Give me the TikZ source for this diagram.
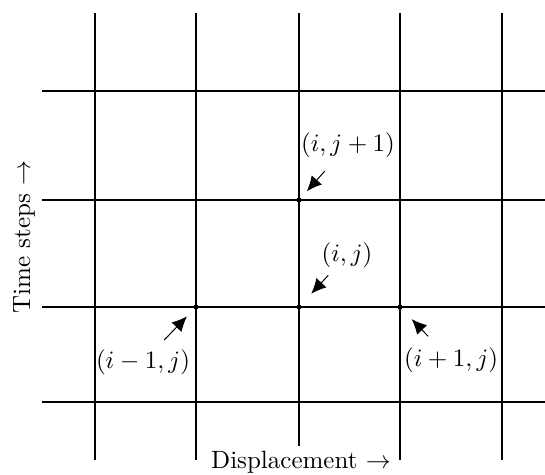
\documentclass[tikz,border=0pt]{standalone}
\usepackage{tikz}
\usetikzlibrary{arrows.meta}

\tikzset{
  gridline/.style={line width=0.5pt},
  gridpt/.style={circle, fill=black, inner sep=0pt, minimum size=2pt},
  ptlabel/.style={inner sep=0pt},
  ptarrow/.style={line width=0.4pt, -{Latex[length=6pt,width=5.5pt]}},
}

\begin{document}
\begin{tikzpicture}[x=0.4pt, y=-0.4pt]
    \useasboundingbox (0,0) rectangle (545,474);
    % mesh lines
    \foreach \x/\e in {95/460, 196/460, 299/446, 400/460, 502/460}
      \draw[gridline] (\x,13) -- (\x,\e);
    \foreach \y in {91, 200, 307, 402}
      \draw[gridline] (42,\y) -- (545,\y);

    % mesh points
    \node[gridpt] (pij)  at (299,307) {};
    \node[gridpt] (pup)  at (299,200) {};
    \node[gridpt] (pleft) at (196,307) {};
    \node[gridpt] (pright) at (400,307) {};

    % point labels
    \node[ptlabel] (lup)    at (348,145) {$(i, j+1)$};
    \node[ptlabel] (lij)    at (347,255) {$(i, j)$};
    \node[ptlabel] (lleft)  at (143,362) {$(i-1, j)$};
    \node[ptlabel] (lright) at (451,360) {$(i+1, j)$};

    \draw[ptarrow, shorten <=7pt, shorten >=3.5pt] (lup) -- (pup);
    \draw[ptarrow, shorten <=4pt, shorten >=6pt] (lij) -- (pij);
    \draw[ptarrow, shorten <=5pt, shorten >=4pt] (lleft) -- (pleft);
    \draw[ptarrow, shorten <=6pt, shorten >=5.5pt] (lright) -- (pright);

    % axis labels
    \node (xlabel) at (301,462) {Displacement $\rightarrow$};
    \node[rotate=90] (ylabel) at (24,237) {Time steps $\rightarrow$};
\end{tikzpicture}
\end{document}
